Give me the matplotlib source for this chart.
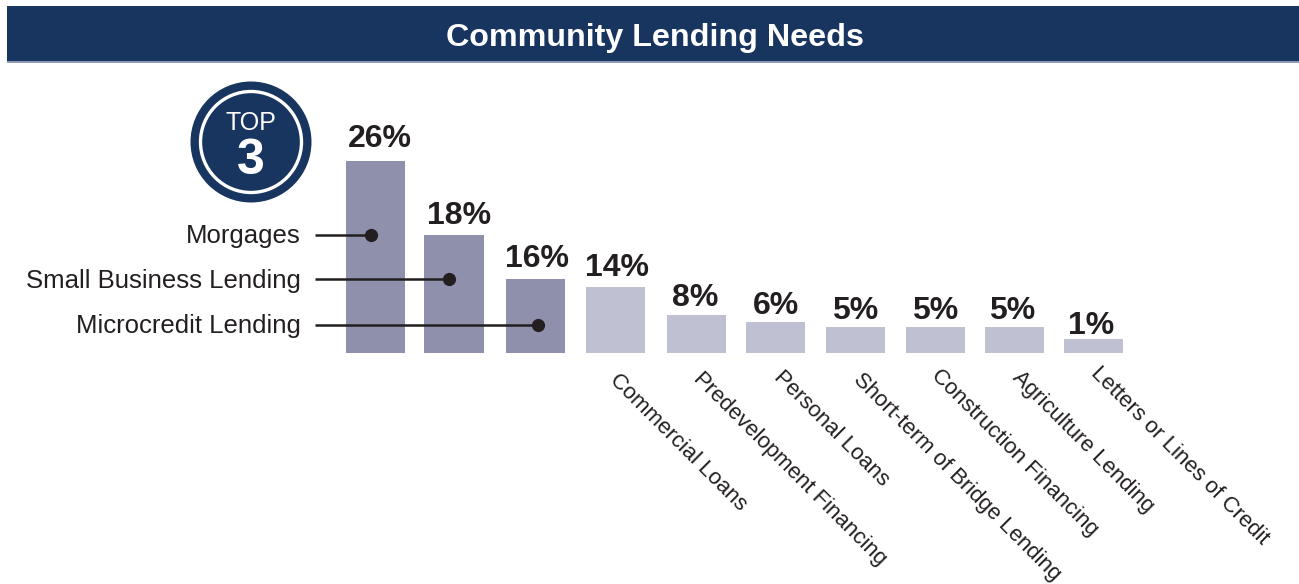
import matplotlib.pyplot as plt
from matplotlib.patches import Circle, Rectangle
from matplotlib.transforms import ScaledTranslation

plt.rcParams['font.family'] = ['Liberation Sans', 'DejaVu Sans']

TITLE = "Community Lending Needs"
top3_names = ["Morgages", "Small Business Lending", "Microcredit Lending"]
top3_dots = [371, 449, 538]
top3_y = [234.5, 279, 324.5]
other_names = ["Commercial Loans", "Predevelopment Financing", "Personal Loans",
               "Short-term of Bridge Lending", "Construction Financing",
               "Agriculture Lending", "Letters or Lines of Credit"]
pct_labels = ["26%", "18%", "16%", "14%", "8%", "6%", "5%", "5%", "5%", "1%"]
# bar lengths are not proportional to the percentages in the original, read off as drawn
bar_heights = [192, 118, 74, 66, 38, 31, 26, 26, 26, 14]

# hand placed in the original, so spacing and label gaps are a bit uneven
bar_pos = [0, 0.984, 2, 3.008, 4.024, 5.014, 6.017, 7.019, 8.01, 9]
label_dx = [4, 5, 2, 2, -1, 0, 0, 0, -2, -2]
label_dy = [6.7, 3.7, 4.7, 3.7, 1.7, 0.7, 0.7, 0.7, 0.7, -2.3]
tick_dx = [-3, 0, 1, 1, -1, 1, 0]
tick_dy = [1, 2, 4, 1, 5, 3, 8]

NAVY = "#18355f"
DARK_BAR = "#8f90ac"
LIGHT_BAR = "#bfc1d3"
INK = "#231f20"
W, H = 1299, 584
PX = 0.72  # points per pixel at dpi 100

fig = plt.figure(figsize=(W / 100, H / 100), dpi=100, facecolor="white")

# overlay in pixel coordinates for banner, badge and leader lines
over = fig.add_axes([0, 0, 1, 1], zorder=3)
over.set_xlim(0, W)
over.set_ylim(H, 0)
over.axis("off")

over.add_patch(Rectangle((7, 6), 1292, 56, color=NAVY, lw=0))
over.add_patch(Rectangle((7, 61), 1292, 2, color="#8e9ab3", lw=0))
over.text(655.5, 38, TITLE, color="white", fontsize=23.2, fontweight="bold",
          ha="center", va="center")

over.add_patch(Circle((251, 142), 60.5, color=NAVY, lw=0))
over.add_patch(Circle((251, 142), 50.5, fill=False, ec="white", lw=2.4))
over.text(251, 123, "TOP", color="white", fontsize=18, ha="center", va="center")
over.text(251, 161, "3", color="white", fontsize=36, fontweight="bold",
          ha="center", va="center")

for name, dot_x, y in zip(top3_names, top3_dots, top3_y):
    over.text(301, y + 2, name, color=INK, fontsize=18.5, ha="right", va="center")
    over.plot([315, dot_x], [y, y], color=INK, lw=1.8, solid_capstyle="butt")
    over.plot(dot_x, y, "o", color=INK, ms=9.5, mew=0)

# bars, one y unit is one pixel
ax = fig.add_axes([335.6 / W, (H - 353) / H, 797.8 / W, 253 / H], zorder=2)
ax.patch.set_alpha(0)
colors = [DARK_BAR] * 3 + [LIGHT_BAR] * (len(bar_pos) - 3)
ax.bar(bar_pos, bar_heights, width=0.74, color=colors)
ax.set_xlim(-0.5, 9.5)
ax.set_ylim(0, 253)
for x, h, lab, dx, dy in zip(bar_pos, bar_heights, pct_labels, label_dx, label_dy):
    ax.annotate(lab, (x, h), xytext=(dx * PX, dy * PX), textcoords="offset points",
                ha="center", va="bottom", color=INK, fontsize=23, fontweight="bold")

ax.set_yticks([])
ax.set_xticks(bar_pos[3:])
ax.set_xticklabels(other_names, rotation=-45, rotation_mode="anchor", ha="left",
                   va="center", color=INK, fontsize=15.9)
ax.tick_params(axis="x", length=0, pad=18)
for tick, dx, dy in zip(ax.get_xticklabels(), tick_dx, tick_dy):
    shift = ScaledTranslation(dx / 100, dy / 100, fig.dpi_scale_trans)
    tick.set_transform(tick.get_transform() + shift)
for side in ax.spines:
    ax.spines[side].set_visible(False)

fig.savefig("out.png", dpi=100)
